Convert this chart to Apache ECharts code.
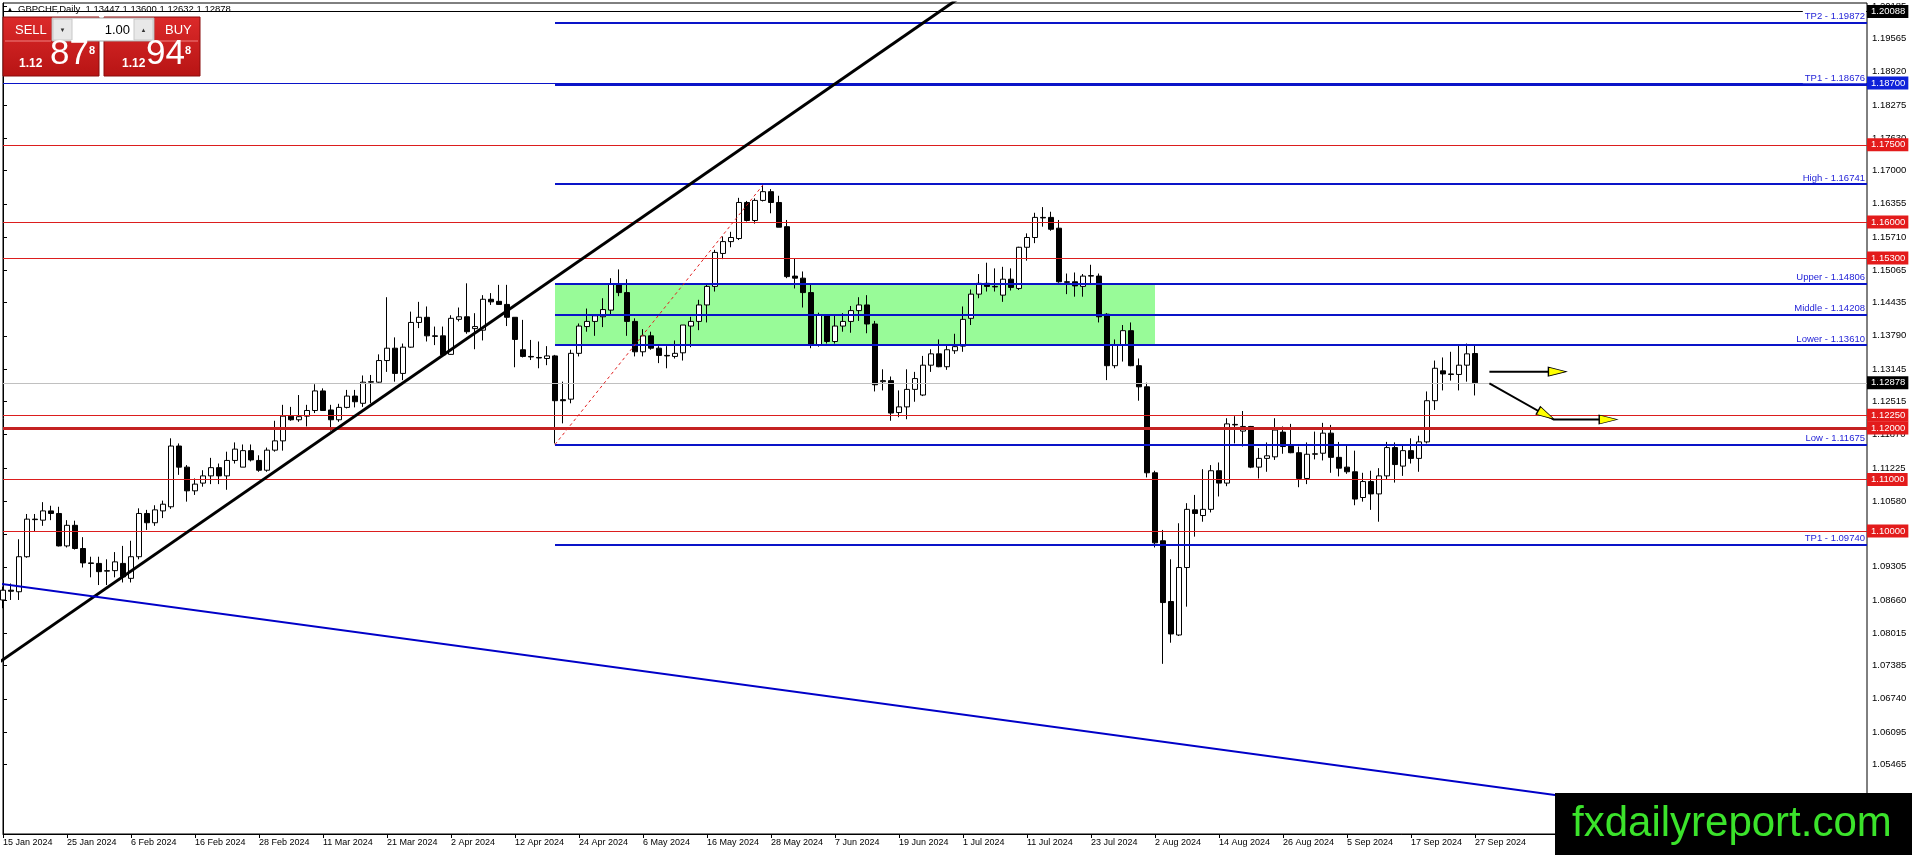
<!DOCTYPE html>
<html>
<head>
<meta charset="utf-8">
<title>GBPCHF Daily</title>
<script src="https://cdn.jsdelivr.net/npm/echarts@6/dist/echarts.min.js"></script>
<style>
html, body { margin: 0; padding: 0; background: #fff; }
#main { width: 1912px; height: 855px; }
</style>
</head>
<body>
<div id="main"></div>
<script>
var chartTitle = 'GBPCHF,Daily  1.13447 1.13600 1.12632 1.12878';
var dateTicks = ['15 Jan 2024','25 Jan 2024','6 Feb 2024','16 Feb 2024','28 Feb 2024','11 Mar 2024',
  '21 Mar 2024','2 Apr 2024','12 Apr 2024','24 Apr 2024','6 May 2024','16 May 2024','28 May 2024',
  '7 Jun 2024','19 Jun 2024','1 Jul 2024','11 Jul 2024','23 Jul 2024','2 Aug 2024','14 Aug 2024',
  '26 Aug 2024','5 Sep 2024','17 Sep 2024','27 Sep 2024'];

// daily bars, 15 Jan .. 27 Sep 2024
var openPrices = [1.0866,1.0885,1.0882,1.0950,1.1023,1.1021,1.1039,1.1034,1.0971,1.1011,
  1.0966,1.0938,1.0937,1.0922,1.0923,1.0937,1.0908,1.0950,1.1034,1.1016,
  1.1039,1.1047,1.1165,1.1124,1.1078,1.1093,1.1107,1.1123,1.1107,1.1137,
  1.1124,1.1156,1.1137,1.1118,1.1157,1.1175,1.1223,1.1216,1.1223,1.1234,
  1.1272,1.1235,1.1216,1.1240,1.1262,1.1248,1.1289,1.1289,1.1331,1.1355,
  1.1306,1.1357,1.1405,1.1415,1.1379,1.1379,1.1343,1.1411,1.1416,1.1393,
  1.1390,1.1450,1.1446,1.1440,1.1415,1.1352,1.1339,1.1337,1.1335,1.1340,
  1.1255,1.1256,1.1345,1.1397,1.1407,1.1416,1.1429,1.1480,1.1463,1.1407,
  1.1348,1.1379,1.1355,1.1341,1.1339,1.1346,1.1398,1.1407,1.1439,1.1475,
  1.1539,1.1562,1.1568,1.1638,1.1603,1.1642,1.1659,1.1638,1.1591,1.1495,
  1.1491,1.1463,1.1361,1.1420,1.1368,1.1398,1.1407,1.1428,1.1439,1.1402,
  1.1290,1.1292,1.1230,1.1241,1.1275,1.1264,1.1322,1.1344,1.1319,1.1350,
  1.1359,1.1413,1.1460,1.1481,1.1475,1.1458,1.1489,1.1471,1.1551,1.1570,
  1.1609,1.1609,1.1588,1.1484,1.1484,1.1475,1.1495,1.1495,1.1421,1.1321,
  1.1361,1.1389,1.1321,1.1280,1.1113,1.0981,1.0863,1.0798,1.0929,1.1041,
  1.1030,1.1042,1.1117,1.1093,1.1207,1.1194,1.1203,1.1124,1.1141,1.1144,
  1.1192,1.1165,1.1152,1.1102,1.1149,1.1151,1.1190,1.1143,1.1124,1.1115,
  1.1065,1.1096,1.1072,1.1107,1.1162,1.1126,1.1156,1.1141,1.1173,1.1253,
  1.1311,1.1305,1.1304,1.1322,1.13447];
var highPrices = [1.0892,1.0898,1.0984,1.1033,1.1033,1.1056,1.1049,1.1047,1.1021,1.1020,
  1.0988,1.0950,1.0950,1.0945,1.0959,1.0971,1.0981,1.1044,1.1041,1.1050,
  1.1059,1.1180,1.1170,1.1128,1.1102,1.1118,1.1142,1.1131,1.1154,1.1172,
  1.1168,1.1168,1.1147,1.1162,1.1214,1.1245,1.1241,1.1264,1.1245,1.1285,
  1.1277,1.1245,1.1247,1.1274,1.1274,1.1302,1.1303,1.1343,1.1454,1.1376,
  1.1364,1.1426,1.1445,1.1436,1.1397,1.1397,1.1419,1.1434,1.1481,1.1423,
  1.1458,1.1462,1.1478,1.1478,1.1415,1.1410,1.1371,1.1368,1.1359,1.1342,
  1.1290,1.1352,1.1403,1.1432,1.1421,1.1452,1.1491,1.1508,1.1489,1.1413,
  1.1392,1.1387,1.1359,1.1359,1.1370,1.1400,1.1416,1.1449,1.1481,1.1546,
  1.1572,1.1581,1.1647,1.1641,1.1646,1.1672,1.1664,1.1651,1.1604,1.1530,
  1.1504,1.1478,1.1424,1.1421,1.1420,1.1423,1.1437,1.1454,1.1458,1.1408,
  1.1314,1.1300,1.1273,1.1314,1.1309,1.1340,1.1353,1.1372,1.1361,1.1383,
  1.1436,1.1469,1.1499,1.1521,1.1510,1.1513,1.1510,1.1552,1.1578,1.1618,
  1.1629,1.1620,1.1604,1.1500,1.1502,1.1499,1.1517,1.1500,1.1423,1.1372,
  1.1400,1.1405,1.1335,1.1288,1.1117,1.1002,1.0945,1.1015,1.1054,1.1070,
  1.1120,1.1128,1.1133,1.1219,1.1223,1.1233,1.1204,1.1161,1.1172,1.1219,
  1.1203,1.1208,1.1164,1.1172,1.1193,1.1210,1.1206,1.1173,1.1167,1.1156,
  1.1113,1.1117,1.1122,1.1173,1.1172,1.1167,1.1180,1.1185,1.1271,1.1331,
  1.1337,1.1348,1.1363,1.1364,1.13600];
var lowPrices = [1.0850,1.0866,1.0866,1.0948,1.1000,1.1010,1.1021,1.0970,1.0968,1.0964,
  1.0929,1.0910,1.0895,1.0895,1.0910,1.0900,1.0900,1.0945,1.1002,1.1010,
  1.1025,1.1043,1.1109,1.1057,1.1070,1.1086,1.1091,1.1091,1.1080,1.1131,
  1.1124,1.1135,1.1115,1.1115,1.1154,1.1156,1.1214,1.1212,1.1203,1.1229,
  1.1233,1.1195,1.1212,1.1238,1.1240,1.1241,1.1248,1.1288,1.1309,1.1290,
  1.1293,1.1356,1.1394,1.1368,1.1361,1.1339,1.1342,1.1407,1.1383,1.1353,
  1.1370,1.1439,1.1439,1.1398,1.1318,1.1337,1.1332,1.1316,1.1322,1.1170,
  1.1209,1.1248,1.1339,1.1387,1.1379,1.1396,1.1421,1.1456,1.1379,1.1339,
  1.1339,1.1352,1.1326,1.1316,1.1335,1.1331,1.1357,1.1390,1.1405,1.1465,
  1.1528,1.1551,1.1565,1.1601,1.1597,1.1640,1.1617,1.1590,1.1491,1.1471,
  1.1434,1.1355,1.1358,1.1364,1.1364,1.1387,1.1385,1.1408,1.1384,1.1271,
  1.1273,1.1214,1.1221,1.1217,1.1251,1.1262,1.1309,1.1318,1.1313,1.1344,
  1.1348,1.1400,1.1452,1.1465,1.1465,1.1445,1.1467,1.1468,1.1525,1.1559,
  1.1591,1.1583,1.1482,1.1460,1.1455,1.1455,1.1481,1.1405,1.1293,1.1316,
  1.1329,1.1320,1.1253,1.1104,1.0968,1.0742,1.0783,1.0796,1.0853,1.0989,
  1.1018,1.1036,1.1067,1.1087,1.1170,1.1164,1.1122,1.1102,1.1115,1.1138,
  1.1150,1.1151,1.1085,1.1091,1.1139,1.1137,1.1113,1.1106,1.1111,1.1050,
  1.1057,1.1041,1.1018,1.1099,1.1094,1.1107,1.1131,1.1115,1.1170,1.1235,
  1.1273,1.1292,1.1273,1.1290,1.12632];
var closePrices = [1.0885,1.0883,1.0950,1.1023,1.1022,1.1039,1.1034,1.0971,1.1011,1.0966,
  1.0938,1.0937,1.0921,1.0923,1.0940,1.0911,1.0950,1.1034,1.1016,1.1041,
  1.1052,1.1165,1.1124,1.1078,1.1091,1.1107,1.1123,1.1107,1.1137,1.1159,
  1.1156,1.1138,1.1118,1.1157,1.1175,1.1223,1.1216,1.1222,1.1234,1.1272,
  1.1234,1.1216,1.1240,1.1262,1.1251,1.1289,1.1290,1.1331,1.1355,1.1306,
  1.1357,1.1405,1.1415,1.1379,1.1378,1.1342,1.1413,1.1416,1.1387,1.1397,
  1.1450,1.1445,1.1440,1.1415,1.1372,1.1339,1.1338,1.1336,1.1340,1.1253,
  1.1253,1.1345,1.1398,1.1407,1.1418,1.1430,1.1480,1.1463,1.1407,1.1348,
  1.1379,1.1355,1.1341,1.1340,1.1345,1.1400,1.1407,1.1439,1.1475,1.1541,
  1.1562,1.1570,1.1638,1.1603,1.1642,1.1659,1.1638,1.1590,1.1494,1.1491,
  1.1463,1.1361,1.1420,1.1368,1.1398,1.1407,1.1428,1.1439,1.1402,1.1284,
  1.1292,1.1229,1.1241,1.1275,1.1296,1.1322,1.1344,1.1319,1.1352,1.1358,
  1.1411,1.1460,1.1481,1.1475,1.1474,1.1489,1.1473,1.1551,1.1570,1.1609,
  1.1608,1.1586,1.1484,1.1483,1.1476,1.1495,1.1496,1.1416,1.1321,1.1361,
  1.1389,1.1321,1.1280,1.1113,1.0977,1.0861,1.0800,1.0929,1.1042,1.1034,
  1.1042,1.1117,1.1093,1.1208,1.1206,1.1203,1.1124,1.1141,1.1146,1.1196,
  1.1164,1.1152,1.1102,1.1149,1.1150,1.1190,1.1143,1.1122,1.1115,1.1062,
  1.1096,1.1072,1.1107,1.1162,1.1129,1.1156,1.1141,1.1173,1.1253,1.1316,
  1.1305,1.1304,1.1322,1.1344,1.12878];

// price scale
var yMin = 1.04115, yMax = 1.20254;
var yTicks = [1.20185,1.19565,1.18920,1.18275,1.17630,1.17000,1.16355,1.15710,1.15065,1.14435,
  1.13790,1.13145,1.12515,1.11870,1.11225,1.10580,1.09935,1.09305,1.08660,1.08015,
  1.07385,1.06740,1.06095,1.05465];

// horizontal levels
var redLevels = [1.17500, 1.16000, 1.15300, 1.12250, 1.12000, 1.11000, 1.10000];
var boldRedLevel = 1.12000;
var blueLevel = 1.18700;
var blackLevel = 1.20088;
var lastPrice = 1.12878;
var zoneNames = ['TP2', 'TP1', 'High', 'Upper', 'Middle', 'Lower', 'Low', 'TP1'];
var zoneValues = [1.19872, 1.18676, 1.16741, 1.14806, 1.14208, 1.13610, 1.11675, 1.09740];
var zoneStart = 69, boxEnd = 144;

// drawn objects, [bar, price]
var blackTrend = [[-1, 1.07395], [122, 1.20618]];
var blueTrend = [[-1, 1.08991], [233, 1.04049]];
var redDash = [[69, 1.1168], [95, 1.1672]];
var arrowPaths = [
  [[185.8, 1.13094], [194, 1.13094]],
  [[185.8, 1.12869], [193.8, 1.12165], [201, 1.12165]]
];
var arrowHeads = [[194.3, 1.13094, 0], [192.9, 1.12255, -29], [200.65, 1.12165, 0]];

var slotCount = 234;
var font = "'Liberation Sans', Arial, sans-serif";
var mons = ['Jan','Feb','Mar','Apr','May','Jun','Jul','Aug','Sep','Oct','Nov','Dec'];
var cats = [];
var d = new Date(Date.UTC(2024, 0, 15));
while (cats.length < slotCount) {
  var wd = d.getUTCDay();
  if (wd != 0 && wd != 6) cats.push(d.getUTCDate() + ' ' + mons[d.getUTCMonth()] + ' ' + d.getUTCFullYear());
  d.setUTCDate(d.getUTCDate() + 1);
}

var candles = [];
for (var i = 0; i < openPrices.length; i++) {
  candles.push([openPrices[i], closePrices[i], lowPrices[i], highPrices[i]]);
}

function tickShown(idx) {
  return idx % 8 === 0 && idx / 8 < dateTicks.length;
}

function tag(v, bg) {
  return {
    show: true, position: 'end', distance: 0,
    formatter: v.toFixed(5), color: '#fff', backgroundColor: bg,
    padding: [2, 3, 1, 4], fontSize: 9.5, fontFamily: font
  };
}

var levelLines = [];
redLevels.forEach(function (v) {
  levelLines.push({
    yAxis: v,
    lineStyle: { color: v === boldRedLevel ? '#c42222' : '#dc1e1e', width: v === boldRedLevel ? 3 : 1, type: 'solid' },
    label: tag(v, '#e31b1b')
  });
});
levelLines.push({ yAxis: blueLevel, lineStyle: { color: '#0a14c8', width: 1, type: 'solid' }, label: tag(blueLevel, '#0d21d9') });
levelLines.push({ yAxis: blackLevel, lineStyle: { color: '#000', width: 1, type: 'solid' }, label: tag(blackLevel, '#000') });
levelLines.push({ yAxis: lastPrice, lineStyle: { color: '#c0c0c0', width: 1, type: 'solid' }, label: tag(lastPrice, '#000') });
zoneValues.forEach(function (v, k) {
  levelLines.push([
    {
      coord: [zoneStart, v],
      lineStyle: { color: '#0a14c8', width: 2, type: 'solid' },
      label: {
        show: true, position: 'insideEndTop', distance: 1,
        formatter: zoneNames[k] + ' - ' + v.toFixed(5),
        color: '#2323d8', backgroundColor: '#fff', padding: [1, 1, 0, 2],
        fontSize: 9.5, fontFamily: font
      }
    },
    { coord: [slotCount - 1, v] }
  ]);
});

function plainLine(pts, color, width, type, z) {
  return {
    type: 'line', xAxisIndex: 1, data: pts, showSymbol: false, silent: true, z: z,
    lineStyle: { color: color, width: width, type: type }
  };
}

var myChart = echarts.init(document.getElementById('main'));

var series = [
  {
    type: 'line', xAxisIndex: 1, data: [], z: 1, silent: true,
    markArea: {
      silent: true, itemStyle: { color: '#98fb98' },
      data: [[{ coord: [zoneStart, zoneValues[3]] }, { coord: [boxEnd, zoneValues[5]] }]]
    }
  },
  {
    type: 'candlestick', data: candles, barWidth: 5, z: 3, silent: true,
    itemStyle: { color: '#fff', color0: '#000', borderColor: '#000', borderColor0: '#000', borderWidth: 1 }
  },
  {
    type: 'line', xAxisIndex: 1, data: [], z: 4, silent: true,
    markLine: { silent: true, symbol: 'none', precision: 6, animation: false, data: levelLines }
  },
  plainLine(blackTrend, '#000', 3, 'solid', 5),
  plainLine(blueTrend, '#0000c8', 2, 'solid', 5),
  plainLine(redDash, '#e02020', 1, [3, 3], 5)
];
arrowPaths.forEach(function (p) { series.push(plainLine(p, '#000', 2, 'solid', 6)); });
series.push({
  type: 'scatter', xAxisIndex: 1, z: 7, silent: true,
  symbol: 'triangle', symbolSize: [9, 18],
  itemStyle: { color: '#ffff00', borderColor: '#000', borderWidth: 1, opacity: 1 },
  data: arrowHeads.map(function (a) { return { value: [a[0], a[1]], symbolRotate: -90 + a[2] }; })
});

var redFill = new echarts.graphic.LinearGradient(0, 0, 0, 1, [
  { offset: 0, color: '#dc2a2a' }, { offset: 1, color: '#b71414' }
]);

var option = {
  animation: false,
  grid: { left: 3, right: 45, top: 3, bottom: 21, show: true, borderColor: '#000', borderWidth: 1, backgroundColor: '#fff' },
  xAxis: [
    {
      type: 'category', data: cats, boundaryGap: false,
      axisLine: { lineStyle: { color: '#000', width: 1 } },
      axisTick: { interval: tickShown, length: 4, lineStyle: { color: '#000' } },
      axisLabel: {
        interval: tickShown, align: 'left', margin: 4, color: '#000', fontSize: 9, fontFamily: font,
        formatter: function (v, idx) { return dateTicks[idx / 8] || ''; }
      },
      splitLine: { show: false }
    },
    { type: 'value', min: 0, max: slotCount - 1, show: false }
  ],
  yAxis: {
    type: 'value', position: 'right', min: yMin, max: yMax,
    splitLine: { show: false },
    axisLine: { show: true, lineStyle: { color: '#000' } },
    axisTick: { show: true, length: 4, customValues: yTicks, lineStyle: { color: '#000' } },
    axisLabel: {
      customValues: yTicks, margin: 5, color: '#000', fontSize: 9.5, fontFamily: font,
      formatter: function (v) { return v.toFixed(5); }
    }
  },
  series: series,
  graphic: [
    { type: 'text', z: 100, style: { text: '\u25B2', x: 7, y: 9, fontSize: 6, fill: '#000', verticalAlign: 'middle' } },
    { type: 'text', z: 100, style: { text: chartTitle, x: 18, y: 9, font: '9.5px ' + font, fill: '#000', verticalAlign: 'middle' } },
    // trade panel
    { type: 'rect', z: 100, shape: { x: 3, y: 17, width: 96, height: 59 }, style: { fill: redFill, stroke: '#8a0d0d', lineWidth: 1 } },
    { type: 'rect', z: 100, shape: { x: 104, y: 17, width: 96, height: 59 }, style: { fill: redFill, stroke: '#8a0d0d', lineWidth: 1 } },
    { type: 'line', z: 101, shape: { x1: 5, y1: 41, x2: 51, y2: 41 }, style: { stroke: '#f08080', lineWidth: 1 } },
    { type: 'line', z: 101, shape: { x1: 156, y1: 41, x2: 198, y2: 41 }, style: { stroke: '#f08080', lineWidth: 1 } },
    { type: 'rect', z: 101, shape: { x: 52, y: 18, width: 102, height: 23 }, style: { fill: '#fff', stroke: '#a8a8a8', lineWidth: 1 } },
    { type: 'rect', z: 102, shape: { x: 53, y: 19, width: 19, height: 21 }, style: { fill: '#e8e8e8', stroke: '#c8c8c8' } },
    { type: 'rect', z: 102, shape: { x: 134, y: 19, width: 19, height: 21 }, style: { fill: '#e8e8e8', stroke: '#c8c8c8' } },
    { type: 'text', z: 103, style: { text: '\u25BC', x: 62.5, y: 30, fontSize: 6, fill: '#333', align: 'center', verticalAlign: 'middle' } },
    { type: 'text', z: 103, style: { text: '\u25B2', x: 143.5, y: 30, fontSize: 6, fill: '#333', align: 'center', verticalAlign: 'middle' } },
    { type: 'text', z: 103, style: { text: '1.00', x: 130, y: 30, font: '13px ' + font, fill: '#000', align: 'right', verticalAlign: 'middle' } },
    { type: 'text', z: 103, style: { text: 'SELL', x: 15, y: 30, font: '13px ' + font, fill: '#fff', verticalAlign: 'middle' } },
    { type: 'text', z: 103, style: { text: 'BUY', x: 165, y: 30, font: '13px ' + font, fill: '#fff', verticalAlign: 'middle' } },
    { type: 'text', z: 103, style: { text: '1.12', x: 19, y: 70, font: 'bold 12px ' + font, fill: '#fff', verticalAlign: 'bottom' } },
    { type: 'text', z: 103, style: { text: '87', x: 50, y: 72, font: '35px ' + font, fill: '#fff', verticalAlign: 'bottom' } },
    { type: 'text', z: 103, style: { text: '8', x: 89, y: 51, font: 'bold 11px ' + font, fill: '#fff', verticalAlign: 'middle' } },
    { type: 'text', z: 103, style: { text: '1.12', x: 122, y: 70, font: 'bold 12px ' + font, fill: '#fff', verticalAlign: 'bottom' } },
    { type: 'text', z: 103, style: { text: '94', x: 146, y: 72, font: '35px ' + font, fill: '#fff', verticalAlign: 'bottom' } },
    { type: 'text', z: 103, style: { text: '8', x: 185, y: 51, font: 'bold 11px ' + font, fill: '#fff', verticalAlign: 'middle' } },
    // watermark
    { type: 'rect', z: 100, shape: { x: 1555, y: 793, width: 357, height: 62 }, style: { fill: '#000' } },
    { type: 'text', z: 101, style: { text: 'fxdailyreport.com', x: 1572, y: 824, font: '42px ' + font, fill: '#3be32b', verticalAlign: 'middle' } }
  ]
};

myChart.setOption(option);
</script>
</body>
</html>
